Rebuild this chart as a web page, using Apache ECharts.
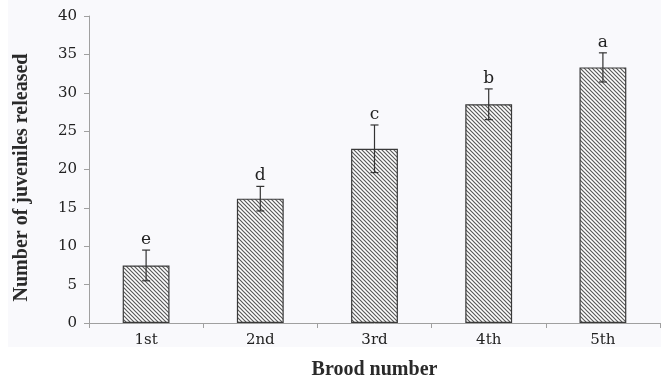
<!DOCTYPE html>
<html><head><meta charset="utf-8">
<script src="https://cdn.jsdelivr.net/npm/echarts@6/dist/echarts.min.js"></script>
<style>html,body{margin:0;padding:0;background:#fff}#c{width:670px;height:382px}</style>
</head><body><div id="c"></div>
<script>
var categories = ['1st', '2nd', '3rd', '4th', '5th'];
var means = [7.5, 16.2, 22.7, 28.5, 33.3];
var errors = [2.0, 1.6, 3.1, 2.0, 1.9];
var letters = ['e', 'd', 'c', 'b', 'a'];
var yTicks = [0, 5, 10, 15, 20, 25, 30, 35, 40];

var tile = document.createElement('canvas');
tile.width = 4; tile.height = 4;
var g = tile.getContext('2d');
g.fillStyle = '#ffffff'; g.fillRect(0, 0, 4, 4);
g.strokeStyle = '#5a5a5a'; g.lineWidth = 1.2;
g.beginPath();
g.moveTo(-1, -1); g.lineTo(5, 5);
g.moveTo(-1, 3); g.lineTo(1, 5);
g.moveTo(3, -1); g.lineTo(5, 1);
g.stroke();

var tickFont = '"DejaVu Serif", "Liberation Serif", serif';
var titleFont = '"Liberation Serif", "DejaVu Serif", serif';
var chart = echarts.init(document.getElementById('c'));
chart.setOption({
  backgroundColor: '#ffffff',
  animation: false,
  graphic: [{type: 'rect', shape: {x: 8, y: 0, width: 653, height: 347}, style: {fill: '#f9f9fc'}, z: -10}],
  grid: {left: 89, right: 10, top: 16, bottom: 59, outerBoundsMode: 'none', containLabel: false},
  xAxis: {
    type: 'category', data: categories,
    axisLine: {lineStyle: {color: '#a0a0a0', width: 1}},
    axisTick: {show: true, alignWithLabel: false, length: 5, lineStyle: {color: '#a0a0a0'}},
    axisLabel: {color: '#222', fontFamily: tickFont, fontSize: 15, margin: 10},
    name: 'Brood number', nameLocation: 'middle', nameGap: 37,
    nameTextStyle: {color: '#2a2a2a', fontFamily: titleFont, fontSize: 20, fontWeight: 'bold'}
  },
  yAxis: {
    type: 'value', min: 0, max: 40, interval: 5,
    axisLine: {show: true, lineStyle: {color: '#a0a0a0', width: 1}},
    axisTick: {show: true, length: 5, lineStyle: {color: '#a0a0a0'}},
    splitLine: {show: false},
    axisLabel: {color: '#222', fontFamily: tickFont, fontSize: 15, margin: 12,
      customValues: yTicks},
    name: 'Number of juveniles released', nameLocation: 'middle', nameGap: 57,
    nameTextStyle: {color: '#2a2a2a', fontFamily: titleFont, fontSize: 20, fontWeight: 'bold',
      padding: [0, 16, 0, 0]}
  },
  series: [{
    type: 'bar', data: means, barWidth: '41%',
    itemStyle: {color: {image: tile, repeat: 'repeat'}, borderColor: '#3a3a3a', borderWidth: 1.2}
  }, {
    type: 'custom',
    data: means.map(function (m, i) { return [i, m - errors[i], m + errors[i], letters[i]]; }),
    renderItem: function (params, api) {
      var lo = api.coord([api.value(0), api.value(1)]);
      var hi = api.coord([api.value(0), api.value(2)]);
      var cap = 4;
      var st = {stroke: '#333333', lineWidth: 1.2};
      return {type: 'group', children: [
        {type: 'line', shape: {x1: hi[0], y1: hi[1], x2: lo[0], y2: lo[1]}, style: st},
        {type: 'line', shape: {x1: hi[0] - cap, y1: hi[1], x2: hi[0] + cap, y2: hi[1]}, style: st},
        {type: 'line', shape: {x1: lo[0] - cap, y1: lo[1], x2: lo[0] + cap, y2: lo[1]}, style: st},
        {type: 'text', style: {text: letters[params.dataIndex], x: hi[0], y: hi[1] - 2,
          align: 'center', verticalAlign: 'bottom', fill: '#222', font: '17px ' + tickFont}}
      ]};
    },
    z: 5
  }]
});
</script></body></html>
